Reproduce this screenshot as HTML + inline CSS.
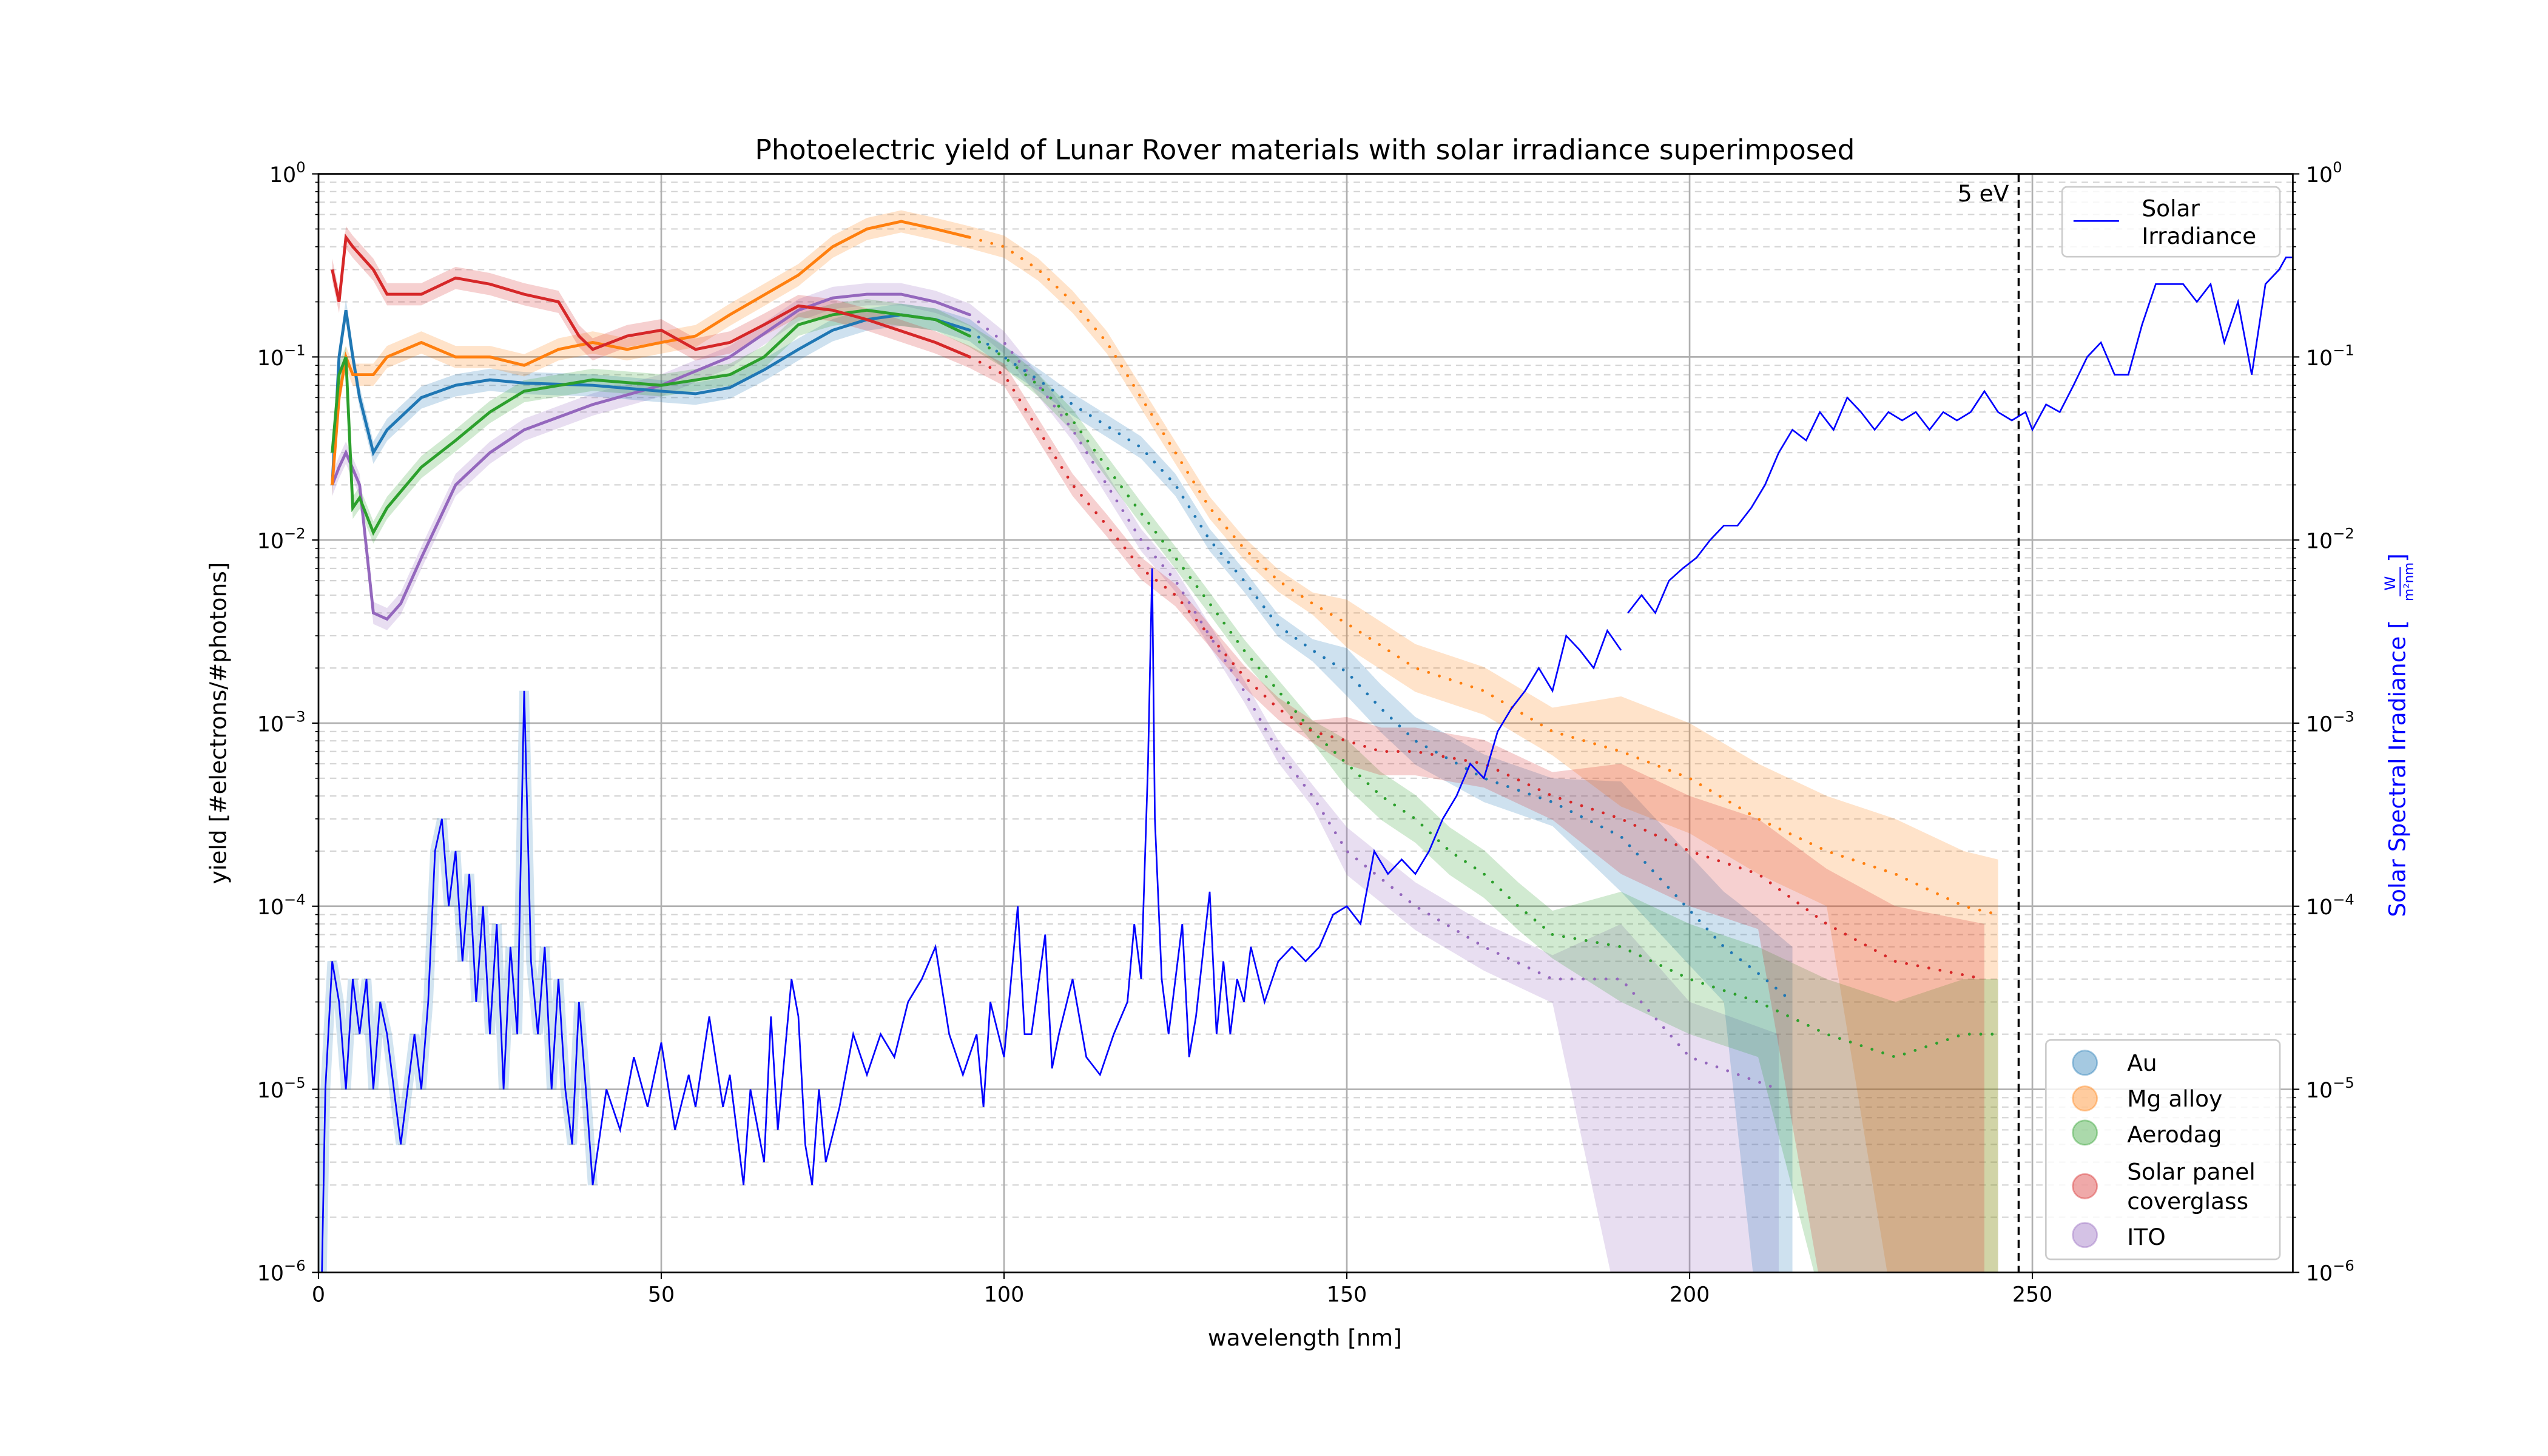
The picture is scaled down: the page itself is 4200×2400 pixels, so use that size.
<!DOCTYPE html>
<html><head><meta charset="utf-8"><style>
html,body{margin:0;padding:0;background:#fff}
svg{display:block}
text{font-family:"DejaVu Sans","Liberation Sans",sans-serif}
</style></head><body>
<svg id="chart" width="4200" height="2400" viewBox="0 0 1568 896" xmlns="http://www.w3.org/2000/svg">
<defs><clipPath id="plotclip"><rect x="196" y="107" width="1215" height="676"/></clipPath></defs>
<rect x="0" y="0" width="1568" height="896" fill="#fff"/>
<g id="grid"></g>
<g id="bands" clip-path="url(#plotclip)"></g>
<g id="series" clip-path="url(#plotclip)"></g>
<g id="axes"></g>
<text x="803" y="98" font-size="17" text-anchor="middle">Photoelectric yield of Lunar Rover materials with solar irradiance superimposed</text>
<text x="803" y="828" font-size="14" text-anchor="middle">wavelength [nm]</text>
<text transform="translate(139,445) rotate(-90)" font-size="14" text-anchor="middle">yield [#electrons/#photons]</text>
<g transform="translate(1480,445) rotate(-90)" fill="#0000ff">
<text x="-28" y="0" font-size="14" text-anchor="middle" fill="#0000ff">Solar Spectral Irradiance [</text>
<text x="86" y="-6" font-size="9" text-anchor="middle" fill="#0000ff">W</text>
<line x1="78" x2="96" y1="-3" y2="-3" stroke="#0000ff" stroke-width="0.7"/>
<text x="87" y="5" font-size="8" text-anchor="middle" fill="#0000ff">m²nm</text>
<text x="99" y="0" font-size="14" fill="#0000ff">]</text>
</g>
<g>
<rect x="1269" y="115" width="134" height="43" rx="3" fill="#fff" fill-opacity="0.8" stroke="#ccc"/>
<line x1="1276" y1="136" x2="1304" y2="136" stroke="#0000ff" stroke-width="1"/>
<text x="1318" y="133" font-size="14">Solar</text>
<text x="1318" y="150" font-size="14">Irradiance</text>
</g>
<g>
<rect x="1259" y="640" width="144" height="135" rx="3" fill="#fff" fill-opacity="0.8" stroke="#ccc"/>
<circle cx="1283" cy="654" r="7.5" fill="#1f77b4" fill-opacity="0.4" stroke="#1f77b4" stroke-opacity="0.4"/><text x="1309" y="659" font-size="14">Au</text>
<circle cx="1283" cy="676" r="7.5" fill="#ff7f0e" fill-opacity="0.4" stroke="#ff7f0e" stroke-opacity="0.4"/><text x="1309" y="681" font-size="14">Mg alloy</text>
<circle cx="1283" cy="697" r="7.5" fill="#2ca02c" fill-opacity="0.4" stroke="#2ca02c" stroke-opacity="0.4"/><text x="1309" y="703" font-size="14">Aerodag</text>
<circle cx="1283" cy="730" r="7.5" fill="#d62728" fill-opacity="0.4" stroke="#d62728" stroke-opacity="0.4"/><text x="1309" y="726" font-size="14">Solar panel</text><text x="1309" y="744" font-size="14">coverglass</text>
<circle cx="1283" cy="760" r="7.5" fill="#9467bd" fill-opacity="0.4" stroke="#9467bd" stroke-opacity="0.4"/><text x="1309" y="766" font-size="14">ITO</text>
</g>
<script>
const xTicks=[0,50,100,150,200,250];
const yDecades=[-6,-5,-4,-3,-2,-1,0];
const auWl=[2,3,4,5,6,8,10,15,20,25,30,40,50,55,60,65,70,75,80,85,90,95,100,105,110,115,120,125,130,135,140,145,150,155,160,170,180,190,200,205,210,215];
const auVal=[0.02,0.1,0.18,0.1,0.06,0.03,0.04,0.06,0.07,0.075,0.072,0.07,0.065,0.063,0.068,0.085,0.11,0.14,0.16,0.17,0.16,0.14,0.1,0.075,0.055,0.042,0.032,0.02,0.01,0.006,0.0034,0.0025,0.0019,0.0012,0.0008,0.0005,0.00037,0.00024,0.000095,0.00006,0.000043,0.00003];
const mgWl=[2,3,4,5,8,10,15,20,25,30,35,40,45,50,55,60,70,75,80,85,90,95,100,105,110,115,120,125,130,135,140,145,150,160,170,180,190,200,210,220,230,240,245];
const mgVal=[0.02,0.06,0.1,0.08,0.08,0.1,0.12,0.1,0.1,0.09,0.11,0.12,0.11,0.12,0.13,0.17,0.28,0.4,0.5,0.55,0.5,0.45,0.4,0.3,0.2,0.12,0.06,0.03,0.015,0.009,0.006,0.0045,0.0035,0.002,0.0015,0.0009,0.0007,0.0005,0.0003,0.0002,0.00015,0.0001,0.00009];
const agWl=[2,3,4,5,6,8,10,15,20,25,30,40,50,60,65,70,75,80,90,95,100,105,110,115,120,125,130,135,140,145,150,155,160,165,170,175,180,190,200,210,220,230,240,245];
const agVal=[0.03,0.08,0.1,0.015,0.017,0.011,0.015,0.025,0.035,0.05,0.065,0.075,0.07,0.08,0.1,0.15,0.17,0.18,0.16,0.13,0.1,0.07,0.045,0.025,0.014,0.008,0.0045,0.0025,0.0015,0.0009,0.0006,0.0004,0.0003,0.0002,0.00015,0.0001,0.00007,0.00006,0.00004,0.00003,0.00002,0.000015,0.00002,0.00002];
const spWl=[2,3,4,5,8,10,15,20,25,30,35,38,40,45,50,55,60,65,70,75,80,90,95,100,105,110,115,120,125,130,135,140,145,150,155,160,170,180,190,200,210,220,230,243];
const spVal=[0.3,0.2,0.45,0.4,0.3,0.22,0.22,0.27,0.25,0.22,0.2,0.13,0.11,0.13,0.14,0.11,0.12,0.15,0.19,0.18,0.16,0.12,0.1,0.08,0.04,0.02,0.012,0.007,0.005,0.003,0.0018,0.0012,0.0009,0.0008,0.0007,0.0007,0.0006,0.0004,0.0003,0.0002,0.00015,0.00008,0.00005,0.00004];
const itoWl=[2,3,4,6,8,10,12,15,20,25,30,40,50,60,70,75,80,85,90,95,100,105,110,115,120,125,130,135,140,145,150,160,170,180,190,200,213];
const itoVal=[0.02,0.025,0.03,0.02,0.004,0.0037,0.0045,0.008,0.02,0.03,0.04,0.055,0.07,0.1,0.18,0.21,0.22,0.22,0.2,0.17,0.12,0.07,0.04,0.02,0.01,0.006,0.003,0.0015,0.0007,0.0004,0.0002,0.0001,0.00006,0.00004,0.00004,0.000015,0.00001];
const solWl=[0.5,1,2,3,4,5,6,7,8,9,10,11,12,13,14,15,16,17,18,19,20,21,22,23,24,25,26,27,28,29,30,31,32,33,34,35,36,37,38,39,40,42,44,46,48,50,52,54,55,57,59,60,62,63,65,66,67,69,70,71,72,73,74,76,78,80,82,84,86,88,90,92,94,96,97,98,100,102,103,104,106,107,108,110,112,114,116,118,119,120,121,121.6,122,123,124,126,127,128,130,131,132,133,134,135,136,138,140,142,144,146,148,150,152,154,156,158,160,162,164,166,168,170,172,174,176,178,180,182,184,186,188,190,190.5,191,193,195,197,199,201,203,205,207,209,211,213,215,217,219,221,223,225,227,229,231,233,235,237,239,241,243,245,247,249,250,252,254,256,258,260,262,264,266,268,270,272,274,276,278,280,282,284,286,287,288];
const solVal=[1e-6,1e-5,5e-5,3e-5,1e-5,4e-5,2e-5,4e-5,1e-5,3e-5,2e-5,1e-5,5e-6,1e-5,2e-5,1e-5,3e-5,2e-4,3e-4,1e-4,2e-4,5e-5,1.5e-4,3e-5,1e-4,2e-5,8e-5,1e-5,6e-5,2e-5,1.5e-3,5e-5,2e-5,6e-5,1e-5,4e-5,1e-5,5e-6,3e-5,1e-5,3e-6,1e-5,6e-6,1.5e-5,8e-6,1.8e-5,6e-6,1.2e-5,8e-6,2.5e-5,8e-6,1.2e-5,3e-6,1e-5,4e-6,2.5e-5,6e-6,4e-5,2.5e-5,5e-6,3e-6,1e-5,4e-6,8e-6,2e-5,1.2e-5,2e-5,1.5e-5,3e-5,4e-5,6e-5,2e-5,1.2e-5,2e-5,8e-6,3e-5,1.5e-5,1e-4,2e-5,2e-5,7e-5,1.3e-5,2e-5,4e-5,1.5e-5,1.2e-5,2e-5,3e-5,8e-5,4e-5,6e-4,7e-3,3e-4,4e-5,2e-5,8e-5,1.5e-5,2.5e-5,1.2e-4,2e-5,5e-5,2e-5,4e-5,3e-5,6e-5,3e-5,5e-5,6e-5,5e-5,6e-5,9e-5,1e-4,8e-5,2e-4,1.5e-4,1.8e-4,1.5e-4,2e-4,3e-4,4e-4,6e-4,5e-4,9e-4,1.2e-3,1.5e-3,2e-3,1.5e-3,3e-3,2.5e-3,2e-3,3.2e-3,2.5e-3,null,4e-3,5e-3,4e-3,6e-3,7e-3,8e-3,1e-2,1.2e-2,1.2e-2,1.5e-2,2e-2,3e-2,4e-2,3.5e-2,5e-2,4e-2,6e-2,5e-2,4e-2,5e-2,4.5e-2,5e-2,4e-2,5e-2,4.5e-2,5e-2,6.5e-2,5e-2,4.5e-2,5e-2,4e-2,5.5e-2,5e-2,7e-2,0.1,0.12,0.08,0.08,0.15,0.25,0.25,0.25,0.2,0.25,0.12,0.2,0.08,0.25,0.3,0.35,0.35];
const NS='http://www.w3.org/2000/svg';
const L=196,R=1411,T=107,B=783,XMAX=288;
const sx=v=>L+(v/XMAX)*(R-L);
const sy=v=>{let lg=Math.log10(v);lg=Math.max(-6.3,Math.min(0.2,lg));return B-(lg+6)/6*(B-T);};
function mk(tag,attrs,parent){const e=document.createElementNS(NS,tag);for(const k in attrs)e.setAttribute(k,attrs[k]);parent.appendChild(e);return e;}
const grid=document.getElementById('grid'),axes=document.getElementById('axes'),bands=document.getElementById('bands'),ser=document.getElementById('series');
for(let d=-6;d<0;d++){for(let m=2;m<10;m++){const y=sy(m*Math.pow(10,d));
const g=mk('line',{x1:L,x2:R,y1:y,y2:y,stroke:'#d4d4d4','stroke-width':0.8,'stroke-dasharray':'4 3'},grid);


mk('line',{x1:L,x2:L-2,y1:y,y2:y,stroke:'#000','stroke-width':0.6},axes);mk('line',{x1:R,x2:R+2,y1:y,y2:y,stroke:'#000','stroke-width':0.6},axes);}}
yDecades.forEach(d=>{const y=sy(Math.pow(10,d));
const g=mk('line',{x1:L,x2:R,y1:y,y2:y,stroke:'#b0b0b0','stroke-width':1},grid);


mk('line',{x1:L,x2:L-4,y1:y,y2:y,stroke:'#000','stroke-width':0.8},axes);mk('line',{x1:R,x2:R+4,y1:y,y2:y,stroke:'#000','stroke-width':0.8},axes);
[[L-8,'end'],[R+8,'start']].forEach(([x,a])=>{const t=mk('text',{x:x,y:y+5,'font-size':13,'text-anchor':a},axes);


const b=document.createElementNS(NS,'tspan');b.textContent='10';t.appendChild(b);
const s=mk('tspan',{dy:-6,'font-size':9},t);s.textContent=(d<0?'−'+(-d):String(d));});});
xTicks.forEach(v=>{const x=sx(v);
const g=mk('line',{x1:x,x2:x,y1:T,y2:B,stroke:'#b0b0b0','stroke-width':1},grid);


mk('line',{x1:x,x2:x,y1:B,y2:B+4,stroke:'#000','stroke-width':0.8},axes);
const t=mk('text',{x:x,y:B+18,'font-size':13,'text-anchor':'middle'},axes);


t.textContent=v;});
const fr=mk('rect',{x:L,y:T,width:R-L,height:B-T,fill:'none',stroke:'#000','stroke-width':1},axes);


const ev=mk('line',{x1:sx(248),x2:sx(248),y1:T,y2:B,stroke:'#000','stroke-width':1.3,'stroke-dasharray':'5 3'},ser);


const evt=mk('text',{x:sx(248)-6,y:124,'font-size':14,'text-anchor':'end'},ser);


evt.textContent='5 eV';
function drawSeries(name,wl,val,color,cut){
 const up=[],lo=[];
 wl.forEach((w,i)=>{const f=w<150?1.15:(w<185?1.35:2.0);up.push([sx(w),sy(val[i]*f)]);lo.push([sx(w),w>=cut?B+30:sy(val[i]/f)]);});
 const d='M'+up.map(p=>p.join(',')).join('L')+'L'+lo.reverse().map(p=>p.join(',')).join('L')+'Z';
 const b=mk('path',{d:d,fill:color,'fill-opacity':0.22,stroke:'none'},bands);
 
 
 const solidEnd=wl.findIndex(w=>w>=95);
 const p1=mk('polyline',{points:wl.slice(0,solidEnd+1).map((w,i)=>sx(w)+','+sy(val[i])).join(' '),fill:'none',stroke:color,'stroke-width':1.8},ser);
 
 
 const p2=mk('polyline',{points:wl.slice(solidEnd).map((w,i)=>sx(w)+','+sy(val[i+solidEnd])).join(' '),fill:'none',stroke:color,'stroke-width':1.8,'stroke-dasharray':'0 7','stroke-linecap':'round'},ser);
 
 
}
drawSeries('ito',itoWl,itoVal,'#9467bd',190);
drawSeries('au',auWl,auVal,'#1f77b4',210);
drawSeries('mg-alloy',mgWl,mgVal,'#ff7f0e',230);
drawSeries('aerodag',agWl,agVal,'#2ca02c',213);
drawSeries('solar-panel',spWl,spVal,'#d62728',215);
let segs=[[]];solWl.forEach((w,i)=>{if(solVal[i]==null){segs.push([]);}else segs[segs.length-1].push(sx(w)+','+sy(solVal[i]));});
const early=solWl.map((w,i)=>[w,solVal[i]]).filter(p=>p[0]<=40&&p[1]!=null).map(p=>sx(p[0])+','+sy(p[1])).join(' ');
const sb=mk('polyline',{points:early,fill:'none',stroke:'#1f77b4','stroke-opacity':0.2,'stroke-width':6},bands);


segs.forEach(s=>{const p=mk('polyline',{points:s.join(' '),fill:'none',stroke:'#0000ff','stroke-width':1},ser);

});
</script>
</svg>
</body></html>
